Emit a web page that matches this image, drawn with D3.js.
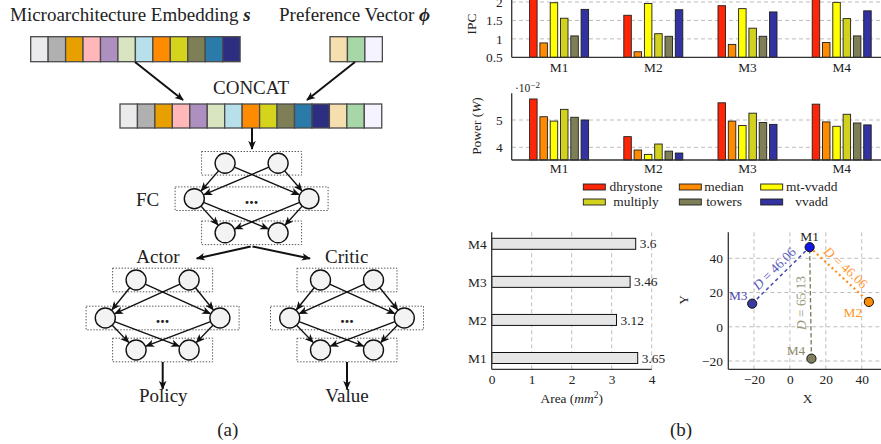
<!DOCTYPE html>
<html><head><meta charset="utf-8">
<script src="https://cdn.jsdelivr.net/npm/d3@7"></script>
<style>
body{margin:0;background:#fff}
svg{display:block}
text{font-family:"Liberation Serif","DejaVu Serif",serif;fill:#222}
</style>
</head><body>
<svg id="c" width="881" height="444"></svg>
<script>
// ---------------- DATA ----------------
const machines = ["M1","M2","M3","M4"];
const benchmarks = ["dhrystone","median","mt-vvadd","multiply","towers","vvadd"];
const benchColors = ["#ff2608","#ff8c00","#ffff00","#d2d21e","#7f7f57","#3232a0"];
// IPC per benchmark, for M1..M4
const ipcDhrystone = [2.30, 1.64, 1.90, 2.30];
const ipcMedian    = [0.89, 0.65, 0.85, 0.90];
const ipcMtVvadd   = [1.98, 1.96, 1.82, 1.99];
const ipcMultiply  = [1.56, 1.14, 1.29, 1.55];
const ipcTowers    = [1.08, 1.07, 1.07, 1.08];
const ipcVvadd     = [1.80, 1.79, 1.73, 1.76];
const ipcTicks = [0.5, 1, 1.5, 2];
const ipcTickLabels = ["0.5","1","1.5","2"];
// Power (x10^-2 W) per benchmark, for M1..M4
const powDhrystone = [5.77, 4.39, 5.63, 5.58];
const powMedian    = [5.12, 3.90, 4.96, 4.93];
const powMtVvadd   = [4.96, 3.74, 4.80, 4.77];
const powMultiply  = [5.39, 4.12, 5.25, 5.21];
const powTowers    = [5.10, 3.86, 4.91, 4.89];
const powVvadd     = [5.00, 3.79, 4.84, 4.82];
const powTicks = [4, 5];
// Area (mm^2)
const areaValues = [3.65, 3.12, 3.46, 3.6];
const areaLabels = ["3.65","3.12","3.46","3.6"];
const areaTicks = [0,1,2,3,4];
// Scatter embedding
const ptX = [11, 44, -21, 12];
const ptY = [46.5, 14.5, 13.5, -18.6];
const ptColors = ["#1414e6","#ff8c00","#3a3aa2","#80805c"];
const ptLabelColors = ["#222","#ff9424","#4a4aae","#8c8c6c"];
const scTicksX = [-20,0,20,40];
const scTicksY = [-20,0,20,40];
const distPairs = [[2,0],[0,1],[3,0]];
const distLabels = ["46.06","46.06","65.13"];
const distColors = ["#4646b4","#ff8c1a","#7a7a5a"];
const distLabelColors = ["#5858bc","#ff9a36","#98987a"];
// Diagram (a)
const embedColors = ["#ebebee","#b0b0b0","#e8a000","#ffb7ba","#ae90c0","#d9e4c1","#b8e0ea","#ff8c00","#d4d41c","#7f7f57","#2a7aaa","#2e2e80"];
const prefColors = ["#f5dfae","#a7d7a7","#f5f3ff"];

const ipcSeries = [ipcDhrystone, ipcMedian, ipcMtVvadd, ipcMultiply, ipcTowers, ipcVvadd];
const powSeries = [powDhrystone, powMedian, powMtVvadd, powMultiply, powTowers, powVvadd];

const svg = d3.select("#c");
const defs = svg.append("defs");
defs.append("marker").attr("id","ah").attr("viewBox","0 0 10 10")
  .attr("refX",9).attr("refY",5).attr("markerWidth",9).attr("markerHeight",9)
  .attr("markerUnits","userSpaceOnUse").attr("orient","auto")
  .append("path").attr("d","M0,0.8 L10,5 L0,9.2 L2.6,5 Z").attr("fill","#111");

// ---------------- PANEL (a) ----------------
const A = svg.append("g");
const t1 = A.append("text").attr("x",10).attr("y",21).attr("font-size",19);
t1.append("tspan").text("Microarchitecture Embedding ");
t1.append("tspan").attr("font-weight","bold").attr("font-style","italic").text("s");
const t2 = A.append("text").attr("x",279).attr("y",21).attr("font-size",19);
t2.append("tspan").text("Preference Vector ");
t2.append("tspan").attr("font-weight","bold").attr("font-style","italic").text("ϕ");

const cellW = 17.45;
function cells(x0, y0, h, colors){
  A.selectAll(null).data(colors).enter().append("rect")
    .attr("x",(d,i)=>x0+i*cellW).attr("y",y0).attr("width",cellW).attr("height",h)
    .attr("fill",d=>d).attr("stroke","#4a4a4a").attr("stroke-width",1.3);
}
cells(30.7, 36.7, 25, embedColors);
cells(330, 36.7, 25, prefColors);
cells(120, 104, 24, embedColors.concat(prefColors));
A.append("text").attr("x",251).attr("y",94).attr("text-anchor","middle").attr("font-size",19).text("CONCAT");

function arrow(x1,y1,x2,y2,w){
  A.append("line").attr("x1",x1).attr("y1",y1).attr("x2",x2).attr("y2",y2)
   .attr("stroke","#111").attr("stroke-width",w||1.8).attr("marker-end","url(#ah)");
}
arrow(135,62,183,100,2);
arrow(355,62,307,100,2);
arrow(252,128,252,149,2);

const R = 10;
function net(cx, ys){
  const g = A.append("g");
  const layers = [
    {y:ys[0], xs:[cx-26.5,cx+26.5], w:100},
    {y:ys[1], xs:[cx-57.3,cx+57.3], w:153},
    {y:ys[2], xs:[cx-26.5,cx+26.5], w:100}
  ];
  layers.forEach(L=>{
    g.append("rect").attr("x",cx-L.w/2).attr("y",L.y-11.8).attr("width",L.w).attr("height",23.6)
      .attr("fill","none").attr("stroke","#444").attr("stroke-width",0.9).attr("stroke-dasharray","1.4,1.6");
  });
  for(let k=0;k<2;k++){
    const a=layers[k], b=layers[k+1];
    a.xs.forEach(x1=>b.xs.forEach(x2=>{
      const dx=x2-x1, dy=b.y-a.y, len=Math.hypot(dx,dy), ux=dx/len, uy=dy/len;
      g.append("line").attr("x1",x1+ux*R).attr("y1",a.y+uy*R)
       .attr("x2",x2-ux*(R+0.6)).attr("y2",b.y-uy*(R+0.6))
       .attr("stroke","#111").attr("stroke-width",1.4).attr("marker-end","url(#ah)");
    }));
  }
  layers.forEach(L=>L.xs.forEach(x=>{
    g.append("circle").attr("cx",x).attr("cy",L.y).attr("r",R)
     .attr("fill","#f3f3f3").attr("stroke","#111").attr("stroke-width",1.4);
  }));
  g.append("text").attr("x",cx).attr("y",ys[1]+5).attr("text-anchor","middle")
   .attr("font-size",18).attr("font-weight","bold").text("...");
}
net(251.6,[163.3,198.7,232.8]);
A.append("text").attr("x",147.5).attr("y",206).attr("text-anchor","middle").attr("font-size",19).text("FC");
arrow(250.7,246.5,196.7,258.5,2);
arrow(252.5,246.5,310,258.5,2);
A.append("text").attr("x",158).attr("y",263).attr("text-anchor","middle").attr("font-size",19).text("Actor");
A.append("text").attr("x",346.7).attr("y",263).attr("text-anchor","middle").attr("font-size",19).text("Critic");
net(162.6,[280,318,350]);
net(347,[280,318,350]);
arrow(162.7,362,162.7,389,2);
arrow(347,362,347,389,2);
A.append("text").attr("x",163.3).attr("y",402).attr("text-anchor","middle").attr("font-size",19).text("Policy");
A.append("text").attr("x",347).attr("y",402).attr("text-anchor","middle").attr("font-size",19).text("Value");
A.append("text").attr("x",227.7).attr("y",436).attr("text-anchor","middle").attr("font-size",19).text("(a)");
A.append("text").attr("x",681).attr("y",436).attr("text-anchor","middle").attr("font-size",19).text("(b)");

// ---------------- PANEL (b) common ----------------
const FS = 13.4;
const B = svg.append("g");
function styleAxis(g){
  g.select(".domain").remove();
  g.selectAll(".tick line").remove();
  g.selectAll("text").attr("font-size",FS).attr("font-family","Liberation Serif, serif").attr("fill","#222");
}
const gridCol = "#bdbdbd", gridDash = "4,3";
const axisCol = "#333";

const xGroups = d3.scaleBand().domain(machines).range([512, 888.8]);
const xInner = d3.scaleBand().domain(benchmarks).range([-29.5, 29.5]).paddingInner(0.272);

function barChart(series, y, yTop, yBase, ticks, tickLabels, gridTicks, xLabPad){
  const g = B.append("g");
  g.selectAll(null).data(gridTicks).enter().append("line")
   .attr("x1",512).attr("x2",881).attr("y1",d=>y(d)).attr("y2",d=>y(d))
   .attr("stroke",gridCol).attr("stroke-dasharray",gridDash).attr("stroke-width",1);
  series.forEach((vals,bi)=>{
    g.selectAll(null).data(vals).enter().append("rect")
     .attr("x",(d,mi)=>xGroups(machines[mi])+xGroups.bandwidth()/2+xInner(benchmarks[bi]))
     .attr("width",xInner.bandwidth())
     .attr("y",d=>y(d)).attr("height",d=>yBase-y(d))
     .attr("fill",benchColors[bi]).attr("stroke","#1e1e1e").attr("stroke-width",0.9);
  });
  g.append("line").attr("x1",511.7).attr("x2",881).attr("y1",yBase).attr("y2",yBase).attr("stroke",axisCol).attr("stroke-width",1.3);
  g.append("line").attr("x1",511.7).attr("x2",511.7).attr("y1",yTop).attr("y2",yBase).attr("stroke",axisCol).attr("stroke-width",1.3);
  const ya = g.append("g").attr("transform","translate(511.7,0)")
    .call(d3.axisLeft(y).tickValues(ticks).tickFormat((d,i)=>tickLabels[i]).tickSize(0).tickPadding(9));
  styleAxis(ya);
  const xa = g.append("g").attr("transform",`translate(0,${yBase})`)
    .call(d3.axisBottom(xGroups).tickSize(0).tickPadding(xLabPad));
  styleAxis(xa);
  return g;
}
const yIpc = d3.scaleLinear().domain([0.5,2]).range([57.3,2]);
barChart(ipcSeries, yIpc, -5, 57.3, ipcTicks, ipcTickLabels, [1,1.5,2], 5);
B.append("text").attr("transform","translate(476,24) rotate(-90)").attr("text-anchor","middle").attr("font-size",FS).text("IPC");

const yPow = d3.scaleLinear().domain([4,5]).range([147.3,120]);
barChart(powSeries, yPow, 93.3, 160, powTicks, ["4","5"], [4,5], 3);
const pl = B.append("text").attr("transform","translate(481,126) rotate(-90)").attr("text-anchor","middle").attr("font-size",FS);
pl.append("tspan").text("Power (");
pl.append("tspan").attr("font-style","italic").text("W");
pl.append("tspan").text(")");
const sc = B.append("text").attr("x",515).attr("y",92).attr("font-size",11.5);
sc.append("tspan").text("·10");
sc.append("tspan").attr("dy",-4.5).attr("font-size",9).text("−2");

// legend
const legCols = [583.3, 679.3, 760.7];
const legCenters = [636, 724, 811.7];
const legRows = [190.5, 205.5];
benchmarks.forEach((b,i)=>{
  const c=i%3, r=Math.floor(i/3);
  B.append("rect").attr("x",legCols[c]).attr("y",legRows[r]-6.5).attr("width",22).attr("height",6)
   .attr("fill",benchColors[i]).attr("stroke","#1e1e1e").attr("stroke-width",0.9);
  B.append("text").attr("x",legCenters[c]).attr("y",legRows[r]).attr("text-anchor","middle").attr("font-size",FS).text(b);
});

// ---------------- Area chart ----------------
const xArea = d3.scaleLinear().domain([0,4]).range([491.7,651.7]);
const yArea = d3.scalePoint().domain(machines).range([358,243.8]);
const ga = B.append("g");
ga.selectAll(null).data([1,2,3,4]).enter().append("line")
  .attr("x1",d=>xArea(d)).attr("x2",d=>xArea(d)).attr("y1",232.3).attr("y2",369.3)
  .attr("stroke",gridCol).attr("stroke-dasharray",gridDash);
ga.selectAll(null).data(areaValues).enter().append("rect")
  .attr("x",xArea(0)).attr("y",(d,i)=>yArea(machines[i])-5.5).attr("height",11)
  .attr("width",d=>xArea(d)-xArea(0)).attr("fill","#e6e6e6").attr("stroke","#111").attr("stroke-width",1);
ga.selectAll(null).data(areaValues).enter().append("text")
  .attr("x",d=>xArea(d)+4).attr("y",(d,i)=>yArea(machines[i])+4.6).attr("font-size",FS)
  .text((d,i)=>areaLabels[i]);
ga.append("line").attr("x1",491.7).attr("x2",651.7).attr("y1",369.3).attr("y2",369.3).attr("stroke",axisCol).attr("stroke-width",1.3);
ga.append("line").attr("x1",491.7).attr("x2",491.7).attr("y1",232.3).attr("y2",369.3).attr("stroke",axisCol).attr("stroke-width",1.3);
styleAxis(ga.append("g").attr("transform","translate(0,369.3)").call(d3.axisBottom(xArea).tickValues(areaTicks).tickFormat(d3.format("d")).tickSize(0).tickPadding(5)));
styleAxis(ga.append("g").attr("transform","translate(491.7,0)").call(d3.axisLeft(yArea).tickSize(0).tickPadding(5)));
const al = ga.append("text").attr("x",571.7).attr("y",403).attr("text-anchor","middle").attr("font-size",FS);
al.append("tspan").text("Area (");
al.append("tspan").attr("font-style","italic").text("mm");
al.append("tspan").attr("dy",-5).attr("font-size",9.5).text("2");
al.append("tspan").attr("dy",5).text(")");

// ---------------- Scatter ----------------
const xs = d3.scaleLinear().domain([-20,40]).range([754,861.7]);
const ys = d3.scaleLinear().domain([-20,40]).range([361,258.3]);
const gs = B.append("g");
gs.selectAll(null).data(scTicksX).enter().append("line")
  .attr("x1",d=>xs(d)).attr("x2",d=>xs(d)).attr("y1",232.3).attr("y2",369.3)
  .attr("stroke",gridCol).attr("stroke-dasharray",gridDash);
gs.selectAll(null).data(scTicksY).enter().append("line")
  .attr("x1",728.3).attr("x2",881).attr("y1",d=>ys(d)).attr("y2",d=>ys(d))
  .attr("stroke",gridCol).attr("stroke-dasharray",gridDash);
gs.append("line").attr("x1",728.3).attr("x2",881).attr("y1",369.3).attr("y2",369.3).attr("stroke",axisCol).attr("stroke-width",1.3);
gs.append("line").attr("x1",728.3).attr("x2",728.3).attr("y1",232.3).attr("y2",369.3).attr("stroke",axisCol).attr("stroke-width",1.3);
styleAxis(gs.append("g").attr("transform","translate(0,369.3)").call(d3.axisBottom(xs).tickValues(scTicksX).tickSize(0).tickPadding(5)));
styleAxis(gs.append("g").attr("transform","translate(728.3,0)").call(d3.axisLeft(ys).tickValues(scTicksY).tickSize(0).tickPadding(5.3)));
gs.append("text").attr("x",807.7).attr("y",403).attr("text-anchor","middle").attr("font-size",FS).text("X");
gs.append("text").attr("transform","translate(688,300) rotate(-90)").attr("text-anchor","middle").attr("font-size",FS).text("Y");

const dashes = ["3.5,3","2,3","4.5,2.5"];
const widths = [1.5,2.2,1.3];
distPairs.forEach((p,k)=>{
  const x1=xs(ptX[p[0]]), y1=ys(ptY[p[0]]), x2=xs(ptX[p[1]]), y2=ys(ptY[p[1]]);
  gs.append("line").attr("x1",x1).attr("y1",y1).attr("x2",x2).attr("y2",y2)
    .attr("stroke",distColors[k]).attr("stroke-width",widths[k]).attr("stroke-dasharray",dashes[k]);
  const a = Math.atan2(y2-y1,x2-x1), mx=(x1+x2)/2, my=(y1+y2)/2, off=5;
  const tx = mx + Math.sin(a)*off, ty = my - Math.cos(a)*off;
  const t = gs.append("text").attr("transform",`translate(${tx},${ty}) rotate(${a*180/Math.PI})`)
    .attr("text-anchor","middle").attr("font-size",FS).style("fill",distLabelColors[k]);
  t.append("tspan").attr("font-style","italic").text("D");
  t.append("tspan").text(" = "+distLabels[k]);
});
gs.selectAll(null).data(ptX).enter().append("circle")
  .attr("cx",d=>xs(d)).attr("cy",(d,i)=>ys(ptY[i])).attr("r",4.6)
  .attr("fill",(d,i)=>ptColors[i]).attr("stroke","#111").attr("stroke-width",1);
const labDx = [0,-16,-14,-15.5], labDy = [-6.5,15,-4,-4];
gs.selectAll(null).data(machines).enter().append("text")
  .attr("x",(d,i)=>xs(ptX[i])+labDx[i]).attr("y",(d,i)=>ys(ptY[i])+labDy[i])
  .attr("text-anchor","middle").attr("font-size",FS)
  .style("fill",(d,i)=>ptLabelColors[i]).text(d=>d);
</script>
</body></html>
